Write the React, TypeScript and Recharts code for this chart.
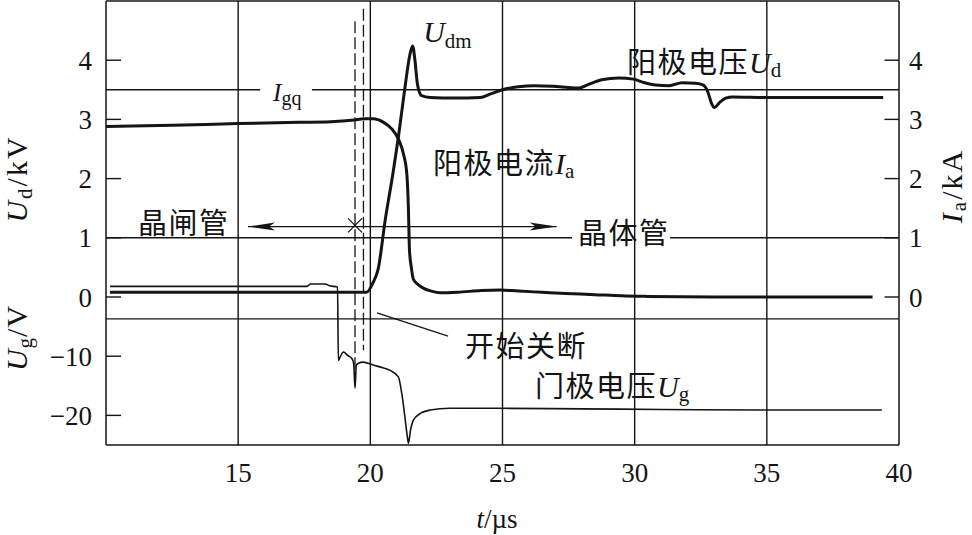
import React from "react";
import { LineChart, Line, XAxis, YAxis, ReferenceLine, ReferenceDot } from "recharts";

const ink = "#141414";
const serif = '"Liberation Serif", "Times New Roman", serif';
const cjk = '"Noto Sans CJK SC", "Noto Sans CJK JP", sans-serif';

// time axis (µs)
const timeTicks = [15, 20, 25, 30, 35, 40];
const gridTimes = [15, 20, 25, 30, 35];
// left axis: top part Ud in kV, bottom part Ug in V (10 V per division)
const udTicks = [0, 1, 2, 3, 4];
const ugTicks = [-10, -20];
const iaTicks = [0, 1, 2, 3, 4];
const ugPerDiv = 10;

// anode voltage Ud (kV)
const udTime = [10.15, 14, 17, 19.86, 20.11, 20.3, 20.56, 20.87, 21.06, 21.31, 21.5, 21.6, 21.69, 21.78, 21.94, 22.26, 23.2, 24.15, 24.55, 25.0, 25.6, 26.2, 26.9, 27.5, 27.85, 28.3, 28.75, 29.4, 29.95, 30.3, 30.8, 31.3, 31.8, 32.3, 32.6, 32.78, 32.9, 33.02, 33.2, 33.45, 33.7, 35, 37, 39.4];
const udKV = [0.08, 0.08, 0.08, 0.08, 0.25, 0.48, 1.29, 2.13, 2.7, 3.54, 4.1, 4.24, 3.99, 3.6, 3.4, 3.37, 3.36, 3.37, 3.43, 3.5, 3.55, 3.57, 3.56, 3.54, 3.53, 3.6, 3.67, 3.7, 3.68, 3.63, 3.58, 3.57, 3.62, 3.61, 3.58, 3.45, 3.28, 3.2, 3.28, 3.36, 3.38, 3.37, 3.37, 3.37];

// anode current Ia (kA)
const iaTime = [10.0, 12.5, 15, 17.3, 18.5, 19.4, 19.75, 20.1, 20.5, 20.81, 21.06, 21.25, 21.38, 21.44, 21.48, 21.55, 21.63, 21.78, 22.0, 22.3, 22.64, 23.3, 24.2, 24.9, 25.6, 26.5, 27.4, 28.5, 29.5, 30.5, 33, 36, 39.0];
const iaKA = [2.88, 2.9, 2.93, 2.95, 2.96, 2.99, 3.01, 3.01, 2.95, 2.84, 2.67, 2.42, 2.08, 1.5, 0.8, 0.5, 0.3, 0.22, 0.15, 0.1, 0.07, 0.08, 0.11, 0.12, 0.1, 0.08, 0.06, 0.04, 0.02, 0.01, 0.0, 0.0, 0.0];

// gate voltage Ug (V)
const ugTime = [10.15, 14, 17.6, 17.75, 18.3, 18.45, 18.76, 18.79, 18.85, 18.98, 19.15, 19.3, 19.37, 19.42, 19.47, 19.55, 19.73, 20.11, 20.5, 20.75, 21.06, 21.19, 21.3, 21.4, 21.44, 21.52, 21.63, 21.88, 22.26, 23.0, 25, 28, 31, 35, 39.35];
const ugVolt = [1.8, 1.8, 1.8, 2.2, 2.2, 1.9, 1.7, -10.7, -10.2, -9.3, -9.9, -10.4, -11.2, -15.4, -11.5, -11.2, -11.0, -11.5, -12.0, -12.4, -13.5, -16.3, -20.0, -23.6, -24.7, -22.5, -20.8, -19.7, -19.1, -18.8, -18.8, -18.9, -19.0, -19.1, -19.1];

const udData = udTime.map((t, i) => ({ t, v: udKV[i] }));
const iaData = iaTime.map((t, i) => ({ t, v: iaKA[i] }));
const ugData = ugTime.map((t, i) => ({ t, v: ugVolt[i] / ugPerDiv }));

// horizontal rules (left-axis units), broken where labels sit on them
const rules = [
  { y: 3.5, from: 10, to: 15.83 },
  { y: 3.5, from: 17.79, to: 40 },
  { y: 1, from: 10, to: 27.63 },
  { y: 1, from: 31.34, to: 40 },
  { y: -0.37, from: 10, to: 40 },
];

const leftTicks = [...ugTicks.map((v) => v / ugPerDiv), ...udTicks];

const fmtLeft = (v: number) => (v < 0 ? "\u2212" + Math.round(Math.abs(v) * ugPerDiv) : String(v));

const tickStyle = { fill: ink, fontSize: 27, fontFamily: serif };

const note = (render: (x: number, y: number) => React.ReactElement) => (p: any) => render(p.cx, p.cy);

function ArrowLine(p: any) {
  const { x1, y1, x2, y2 } = p;
  const head = (tx: number, dir: number) => {
    const b = tx + dir * 27;
    const n = tx + dir * 21;
    return <path d={`M${tx},${y1} L${b},${y1 - 4} L${n},${y1} L${b},${y1 + 4} Z`} fill={ink} />;
  };
  return (
    <g>
      <line x1={x1} y1={y1} x2={x2} y2={y2} stroke={ink} strokeWidth={1.3} />
      {head(Math.min(x1, x2), 1)}
      {head(Math.max(x1, x2), -1)}
    </g>
  );
}

export default function App() {
  return (
    <div style={{ position: "absolute", left: 0, top: 0, background: "#fff" }}>
      <LineChart width={972} height={535} margin={{ top: 1, right: 0, bottom: 0, left: 0 }}>
        <XAxis
          type="number"
          dataKey="t"
          domain={[10, 40]}
          ticks={timeTicks}
          interval={0}
          allowDataOverflow
          height={90}
          tickLine={false}
          tickMargin={12}
          axisLine={{ stroke: ink, strokeWidth: 1.5 }}
          tick={tickStyle}
          label={{
            content: () => (
              <text x={497} y={528} textAnchor="middle" fontFamily={serif} fontSize={27} fill={ink}>
                <tspan fontStyle="italic">t</tspan>/µs
              </text>
            ),
          }}
        />
        <YAxis
          domain={[-2.5, 5]}
          ticks={leftTicks}
          interval={0}
          allowDataOverflow
          width={106}
          tickLine={false}
          tickSize={6}
          tickMargin={8}
          tickFormatter={fmtLeft}
          axisLine={{ stroke: ink, strokeWidth: 1.5 }}
          tick={tickStyle}
          label={{
            content: () => (
              <g fontFamily={serif} fontSize={30} fill={ink}>
                <text transform="translate(27,179) rotate(-90)" textAnchor="middle" letterSpacing={2}>
                  <tspan fontStyle="italic">U</tspan>
                  <tspan fontSize={21} dy={5}>d</tspan>
                  <tspan dy={-5}>/kV</tspan>
                </text>
                <text transform="translate(27,338) rotate(-90)" textAnchor="middle" letterSpacing={1}>
                  <tspan fontStyle="italic">U</tspan>
                  <tspan fontSize={21} dy={5}>g</tspan>
                  <tspan dy={-5}>/V</tspan>
                </text>
              </g>
            ),
          }}
        />
        <YAxis
          yAxisId="r"
          orientation="right"
          domain={[-2.5, 5]}
          ticks={iaTicks}
          interval={0}
          allowDataOverflow
          width={73}
          tickLine={false}
          tickSize={6}
          tickMargin={4}
          axisLine={{ stroke: ink, strokeWidth: 1.5 }}
          tick={{ ...tickStyle, textAnchor: "start" }}
          label={{
            content: () => (
              <text transform="translate(962,186) rotate(-90)" textAnchor="middle" fontFamily={serif} fontSize={30} fill={ink} letterSpacing={2}>
                <tspan fontStyle="italic">I</tspan>
                <tspan fontSize={21} dy={4}>a</tspan>
                <tspan dy={-4}>/kA</tspan>
              </text>
            ),
          }}
        />

        {/* frame top and grid */}
        <ReferenceLine y={5} stroke={ink} strokeWidth={1.5} />
        {gridTimes.map((t) => (
          <ReferenceLine key={"gx" + t} x={t} stroke={ink} strokeWidth={1.4} />
        ))}
        {rules.map((r, i) => (
          <ReferenceLine key={"gy" + i} segment={[{ x: r.from, y: r.y }, { x: r.to, y: r.y }]} stroke={ink} strokeWidth={1.4} />
        ))}

        {/* inner tick marks */}
        {leftTicks.map((v) => (
          <ReferenceLine key={"lt" + v} segment={[{ x: 10, y: v }, { x: 10.57, y: v }]} stroke={ink} strokeWidth={1.4} />
        ))}
        {iaTicks.map((v) => (
          <ReferenceLine key={"rt" + v} yAxisId="r" segment={[{ x: 39.45, y: v }, { x: 40, y: v }]} stroke={ink} strokeWidth={1.4} />
        ))}

        {/* turn-off markers */}
        <ReferenceLine segment={[{ x: 19.42, y: 4.66 }, { x: 19.42, y: -1.5 }]} stroke={ink} strokeWidth={1.3} strokeDasharray="12 4" />
        <ReferenceLine segment={[{ x: 19.74, y: 4.87 }, { x: 19.74, y: -0.9 }]} stroke={ink} strokeWidth={1.3} strokeDasharray="12 4" />
        <ReferenceLine segment={[{ x: 15.37, y: 1.19 }, { x: 27.05, y: 1.19 }]} shape={ArrowLine} />
        <ReferenceLine segment={[{ x: 20.25, y: -0.27 }, { x: 22.94, y: -0.66 }]} stroke={ink} strokeWidth={1.3} />

        <Line data={udData} dataKey="v" type="monotone" stroke={ink} strokeWidth={3} dot={false} isAnimationActive={false} />
        <Line data={iaData} yAxisId="r" dataKey="v" type="monotone" stroke={ink} strokeWidth={3} dot={false} isAnimationActive={false} />
        <Line data={ugData} dataKey="v" type="monotone" stroke={ink} strokeWidth={1.6} dot={false} isAnimationActive={false} />

        {/* annotations */}
        <ReferenceDot
          x={19.42}
          y={1.21}
          r={0}
          shape={note((x, y) => (
            <g stroke={ink} strokeWidth={1.3}>
              <line x1={x - 7} y1={y - 7} x2={x + 7} y2={y + 7} />
              <line x1={x - 7} y1={y + 7} x2={x + 7} y2={y - 7} />
            </g>
          ))}
        />
        <ReferenceDot
          x={16.32}
          y={3.31}
          r={0}
          shape={note((x, y) => (
            <text x={x} y={y} fontFamily={serif} fontSize={25} fill={ink}>
              <tspan fontStyle="italic">I</tspan>
              <tspan fontSize={20} dy={4}>gq</tspan>
            </text>
          ))}
        />
        <ReferenceDot
          x={22.0}
          y={4.3}
          r={0}
          shape={note((x, y) => (
            <text x={x} y={y} fontFamily={serif} fontSize={30} fill={ink}>
              <tspan fontStyle="italic">U</tspan>
              <tspan fontSize={21} dy={6}>dm</tspan>
            </text>
          ))}
        />
        <ReferenceDot
          x={29.71}
          y={3.78}
          r={0}
          shape={note((x, y) => (
            <text x={x} y={y} fontFamily={cjk} fontSize={29} fill={ink} letterSpacing={1.5}>
              阳极电压
              <tspan fontFamily={serif} fontStyle="italic" fontSize={30} letterSpacing={0}>U</tspan>
              <tspan fontFamily={serif} fontSize={21} dy={4} letterSpacing={0}>d</tspan>
            </text>
          ))}
        />
        <ReferenceDot
          x={22.37}
          y={2.08}
          r={0}
          shape={note((x, y) => (
            <text x={x} y={y} fontFamily={cjk} fontSize={29} fill={ink} letterSpacing={1.5}>
              阳极电流
              <tspan fontFamily={serif} fontStyle="italic" fontSize={30} letterSpacing={0}>I</tspan>
              <tspan fontFamily={serif} fontSize={21} dy={4} letterSpacing={0}>a</tspan>
            </text>
          ))}
        />
        <ReferenceDot
          x={11.21}
          y={1.07}
          r={0}
          shape={note((x, y) => (
            <text x={x} y={y} fontFamily={cjk} fontSize={29} fill={ink} letterSpacing={1.5}>
              晶闸管
            </text>
          ))}
        />
        <ReferenceDot
          x={27.86}
          y={0.9}
          r={0}
          shape={note((x, y) => (
            <text x={x} y={y} fontFamily={cjk} fontSize={29} fill={ink} letterSpacing={1.5}>
              晶体管
            </text>
          ))}
        />
        <ReferenceDot
          x={23.58}
          y={-1.02}
          r={0}
          shape={note((x, y) => (
            <text x={x} y={y} fontFamily={cjk} fontSize={29} fill={ink} letterSpacing={1.5}>
              开始关断
            </text>
          ))}
        />
        <ReferenceDot
          x={26.23}
          y={-1.69}
          r={0}
          shape={note((x, y) => (
            <text x={x} y={y} fontFamily={cjk} fontSize={29} fill={ink} letterSpacing={1.5}>
              门极电压
              <tspan fontFamily={serif} fontStyle="italic" fontSize={30} letterSpacing={0}>U</tspan>
              <tspan fontFamily={serif} fontSize={21} dy={4} letterSpacing={0}>g</tspan>
            </text>
          ))}
        />
      </LineChart>
    </div>
  );
}
